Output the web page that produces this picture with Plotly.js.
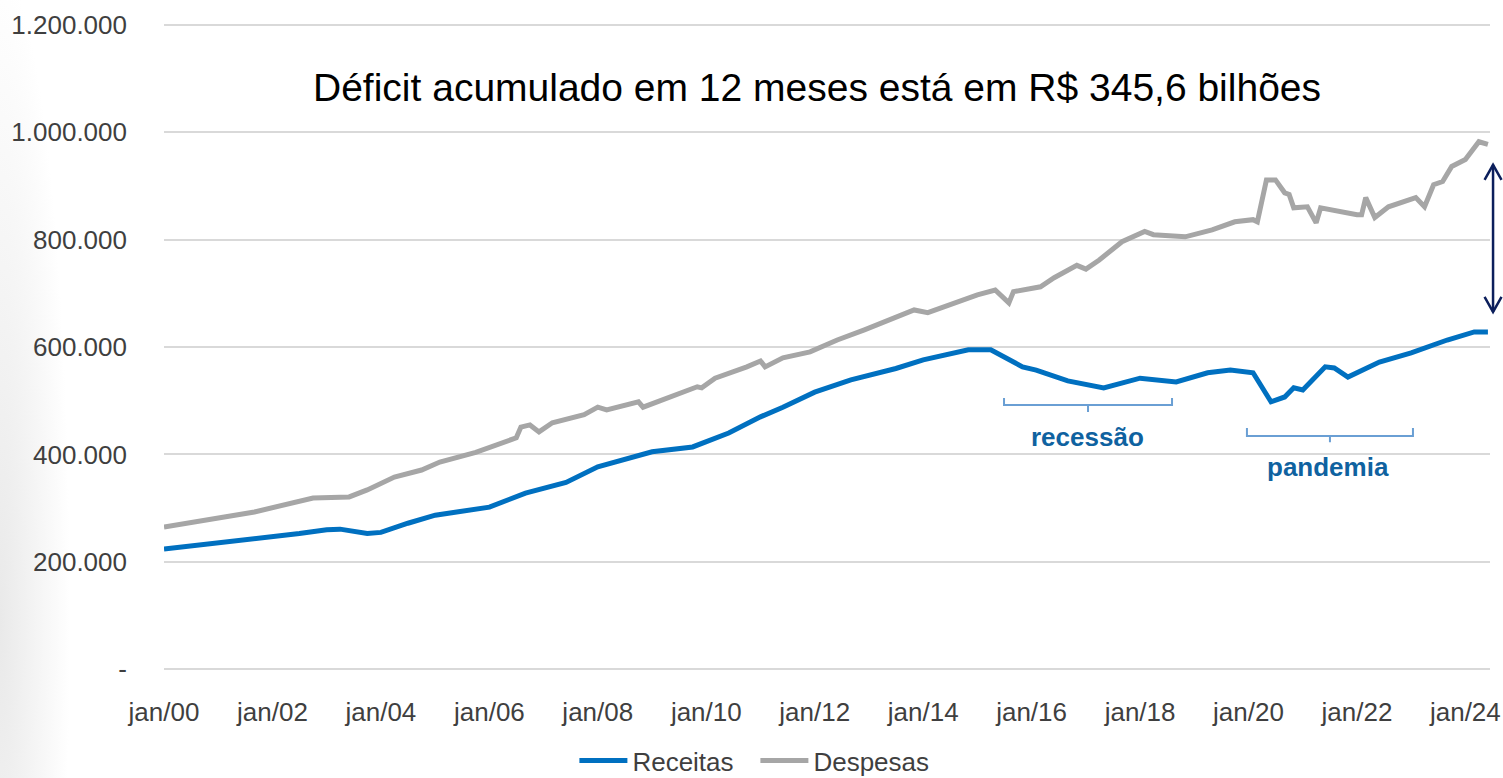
<!DOCTYPE html>
<html>
<head>
<meta charset="utf-8">
<script src="https://cdn.plot.ly/plotly-3.0.1.min.js"></script>
<style>
  html, body { margin: 0; padding: 0; }
  body { width: 1503px; height: 778px; overflow: hidden;
         background: radial-gradient(ellipse 70px 650px at 0px 620px, #e9e9e9 0%, #ffffff 100%); }
  #chart { width: 1503px; height: 778px; }
</style>
</head>
<body>
<div id="chart"></div>
<script>
// ---- Data (R$ milhões, acumulado em 12 meses) ----
const receitasDates = ['2000-01','2001-01','2002-01','2002-07','2003-01','2003-04','2003-10','2004-01','2004-07','2005-01','2006-01','2006-09','2007-06','2008-01','2009-01','2009-10','2010-06','2011-01','2011-06','2012-01','2012-09','2013-07','2014-01','2014-11','2015-04','2015-11','2016-02','2016-09','2017-05','2018-01','2018-09','2019-04','2019-09','2020-02','2020-06','2020-09','2020-11','2021-01','2021-06','2021-08','2021-11','2022-06','2023-01','2023-09','2024-03','2024-06'];
const receitas = [224000,235000,246000,253000,260000,261000,253000,255000,272000,287000,302000,328000,348000,377000,405000,414000,440000,470000,488000,516000,539000,560000,576000,595000,595000,563000,557000,537000,524000,542000,535000,552000,557000,552000,498000,507000,524000,520000,563000,561000,544000,572000,589000,613000,628000,628000];

const despesasDates = ['2000-01','2001-09','2002-10','2003-06','2003-10','2004-04','2004-10','2005-02','2005-10','2006-07','2006-08','2006-10','2006-12','2007-03','2007-10','2008-01','2008-03','2008-10','2008-11','2009-06','2009-11','2009-12','2010-03','2010-10','2011-01','2011-02','2011-06','2011-12','2012-06','2012-12','2013-07','2013-11','2014-02','2015-01','2015-05','2015-08','2015-09','2016-03','2016-06','2016-09','2016-11','2017-01','2017-04','2017-09','2018-02','2018-04','2018-11','2019-05','2019-10','2020-02','2020-03','2020-05','2020-07','2020-09','2020-10','2020-11','2021-02','2021-04','2021-05','2022-01','2022-02','2022-03','2022-05','2022-08','2023-02','2023-04','2023-06','2023-08','2023-10','2024-01','2024-04','2024-06'];
const despesas = [265000,293000,319000,321000,334000,358000,371000,386000,404000,431000,451000,455000,442000,459000,474000,488000,483000,498000,488000,511000,526000,524000,542000,563000,574000,563000,580000,591000,613000,632000,654000,669000,664000,697000,706000,682000,703000,712000,729000,744000,752000,745000,762000,796000,815000,809000,805000,818000,833000,837000,833000,911000,911000,887000,884000,859000,861000,831000,859000,846000,846000,878000,841000,861000,878000,861000,902000,908000,936000,949000,982000,977000];

const xTickVals = ['2000-01-01','2002-01-01','2004-01-01','2006-01-01','2008-01-01','2010-01-01','2012-01-01','2014-01-01','2016-01-01','2018-01-01','2020-01-01','2022-01-01','2024-01-01'];
const xTickText = ['jan/00','jan/02','jan/04','jan/06','jan/08','jan/10','jan/12','jan/14','jan/16','jan/18','jan/20','jan/22','jan/24'];
const yTickVals = [0,200000,400000,600000,800000,1000000,1200000];
const yTickText = ['-','200.000','400.000','600.000','800.000','1.000.000','1.200.000'];

const seriesNames = ['Receitas','Despesas'];
const titleText = 'Déficit acumulado em 12 meses está em R$ 345,6 bilhões';
const labelRecessao = 'recessão';
const labelPandemia = 'pandemia';

// ---- Styles ----
const FONT = '"Liberation Sans", Arial, sans-serif';
const BLUE = '#0070c0';
const GRAY = '#a6a6a6';
const BRACKET = '#6a9fd4';
const LABEL = '#0f62a0';
const ARROW = '#0c1f5c';
const TXT = '#3f3f3f';

const traces = [
  { x: receitasDates, y: receitas, name: seriesNames[0], type: 'scatter', mode: 'lines',
    line: { color: BLUE, width: 5 } },
  { x: despesasDates, y: despesas, name: seriesNames[1], type: 'scatter', mode: 'lines',
    line: { color: GRAY, width: 5 } }
];

function bracket(x1, x2, yTop, yBot, yTick) {
  const xc = (x1 + x2) / 2;
  return { type: 'path', xref: 'paper', yref: 'paper',
    path: `M ${x1},${yTop} L ${x1},${yBot} L ${x2},${yBot} L ${x2},${yTop} M ${xc},${yBot} L ${xc},${yTick}`,
    line: { color: BRACKET, width: 2 } };
}

const ax = 1.0023, aTop = 0.7812, aBot = 0.5541, hw = 0.0064, hh = 0.0232;
const shapes = [
  bracket(0.6335, 0.7602, 0.4212, 0.4104, 0.3996),
  bracket(0.8167, 0.9419, 0.3749, 0.3625, 0.3532),
  { type: 'line', xref: 'paper', yref: 'paper', x0: ax, x1: ax, y0: aBot, y1: aTop,
    line: { color: ARROW, width: 2.5 } },
  { type: 'path', xref: 'paper', yref: 'paper',
    path: `M ${ax-hw},${aTop-hh} L ${ax},${aTop} L ${ax+hw},${aTop-hh}`,
    line: { color: ARROW, width: 2.5 } },
  { type: 'path', xref: 'paper', yref: 'paper',
    path: `M ${ax-hw},${aBot+hh} L ${ax},${aBot} L ${ax+hw},${aBot+hh}`,
    line: { color: ARROW, width: 2.5 } }
];

const annotations = [
  { text: titleText, xref: 'paper', yref: 'paper', x: 0.4925, y: 0.9002,
    xanchor: 'center', yanchor: 'middle', showarrow: false,
    font: { family: FONT, size: 39, color: '#000000' } },
  { text: '<b>' + labelRecessao + '</b>', xref: 'paper', yref: 'paper', x: 0.6968, y: 0.3609,
    xanchor: 'center', yanchor: 'middle', showarrow: false,
    font: { family: FONT, size: 26, color: LABEL } },
  { text: '<b>' + labelPandemia + '</b>', xref: 'paper', yref: 'paper', x: 0.8778, y: 0.3146,
    xanchor: 'center', yanchor: 'middle', showarrow: false,
    font: { family: FONT, size: 26, color: LABEL } }
];

const layout = {
  width: 1503, height: 778,
  margin: { l: 164, r: 13, t: 23.4, b: 107.4, autoexpand: false },
  paper_bgcolor: 'rgba(0,0,0,0)',
  plot_bgcolor: 'rgba(0,0,0,0)',
  font: { family: FONT, size: 26, color: TXT },
  showlegend: true,
  legend: { orientation: 'h', x: 0.446, xanchor: 'center', y: -0.1381, yanchor: 'middle',
    font: { family: FONT, size: 26, color: TXT }, itemwidth: 48, entrywidth: 118,
    bgcolor: 'rgba(0,0,0,0)' },
  xaxis: { type: 'date', range: ['2000-01-01', '2024-06-15'], tickvals: xTickVals, ticktext: xTickText,
    showgrid: false, zeroline: false, showline: false, ticks: '', ticklabelstandoff: 23,
    ticklabeloverflow: 'allow', automargin: false,
    tickfont: { family: FONT, size: 26, color: TXT } },
  yaxis: { range: [-3000, 1203000], tickvals: yTickVals, ticktext: yTickText,
    showgrid: true, gridcolor: '#d9d9d9', gridwidth: 2, zeroline: false, showline: false,
    ticks: '', ticklabelstandoff: 36, ticklabeloverflow: 'allow', automargin: false,
    tickfont: { family: FONT, size: 26, color: TXT } },
  shapes: shapes,
  annotations: annotations
};

Plotly.newPlot('chart', traces, layout, { displayModeBar: false, staticPlot: true });
</script>
</body>
</html>
